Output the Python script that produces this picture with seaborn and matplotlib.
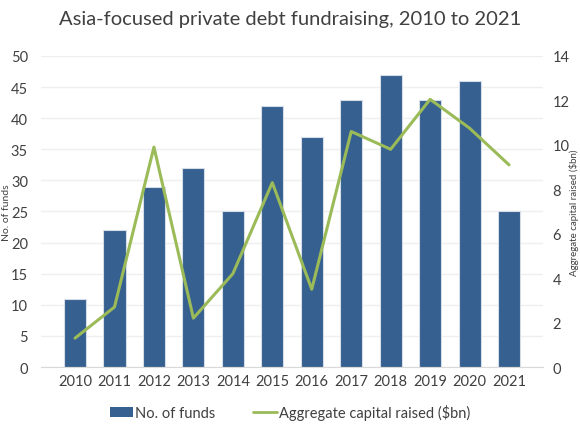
import numpy as np
import pandas as pd
import matplotlib
matplotlib.use('Agg')
import matplotlib.pyplot as plt
import seaborn as sns
from matplotlib.lines import Line2D
from matplotlib.patches import Patch

sns.set_style('white')
plt.rcParams['font.family'] = ['Lato', 'DejaVu Sans']

years = ['2010', '2011', '2012', '2013', '2014', '2015', '2016', '2017', '2018', '2019', '2020', '2021']
num_funds = [11, 22, 29, 32, 25, 42, 37, 43, 47, 43, 46, 25]
capital_bn = [1.3, 2.7, 9.9, 2.2, 4.2, 8.3, 3.5, 10.6, 9.8, 12.05, 10.75, 9.1]

bar_color = '#36608f'
line_color = '#9bbb59'
text_color = '#404040'

df = pd.DataFrame({'year': years, 'funds': num_funds, 'capital': capital_bn})

fig = plt.figure(figsize=(5.8, 4.35), dpi=100)
ax = fig.add_axes([0.071, 0.154, 0.865, 0.715])

sns.barplot(data=df, x='year', y='funds', color=bar_color, width=0.56,
            edgecolor='#d6dde8', linewidth=0.8, saturation=1, ax=ax)
ax.set_ylim(0, 50)
ax.set_yticks(range(0, 51, 5))
ax.yaxis.grid(True, color='#efefef', linewidth=1)
ax.set_axisbelow(True)
for s in ['top', 'right', 'left']:
    ax.spines[s].set_visible(False)
ax.spines['bottom'].set_color('#d9d9d9')
ax.tick_params(axis='x', length=0, labelsize=10.5, colors=text_color, pad=5)
ax.tick_params(axis='y', length=0, labelsize=10.5, colors=text_color, pad=9.5)
ax.set_xlabel('')
ax.set_ylabel('No. of funds', fontsize=7.5, color=text_color)
# left label hugs the figure edge, as in the source
ax.yaxis.set_label_coords((10.8 - 41) / 502, 0.5)

ax2 = ax.twinx()
sns.lineplot(x=np.arange(len(years)), y=capital_bn, color=line_color, linewidth=2.2, ax=ax2)
ax2.set_ylim(0, 14)
ax2.set_yticks(range(0, 15, 2))
for s in ['top', 'right', 'left', 'bottom']:
    ax2.spines[s].set_visible(False)
ax2.tick_params(axis='y', length=0, labelsize=10.5, colors=text_color, pad=7)
ax2.set_ylabel('Aggregate capital raised ($bn)', fontsize=7, color=text_color, rotation=90)
ax2.yaxis.set_label_coords((569 - 41) / 502, 0.5)

fig.suptitle('Asia-focused private debt fundraising, 2010 to 2021', x=0.5, y=0.975,
             fontsize=14.5, color=text_color)

handles = [Patch(facecolor=bar_color, edgecolor='none'),
           Line2D([0], [0], color=line_color, linewidth=2)]
fig.legend(handles, ['No. of funds', 'Aggregate capital raised ($bn)'],
           loc='center', bbox_to_anchor=(0.5, 0.05), ncol=2, frameon=False,
           fontsize=10.5, handlelength=1.6, handleheight=0.6, handletextpad=0.15,
           columnspacing=2.6, labelcolor=text_color)

fig.savefig('out.png', dpi=100)
